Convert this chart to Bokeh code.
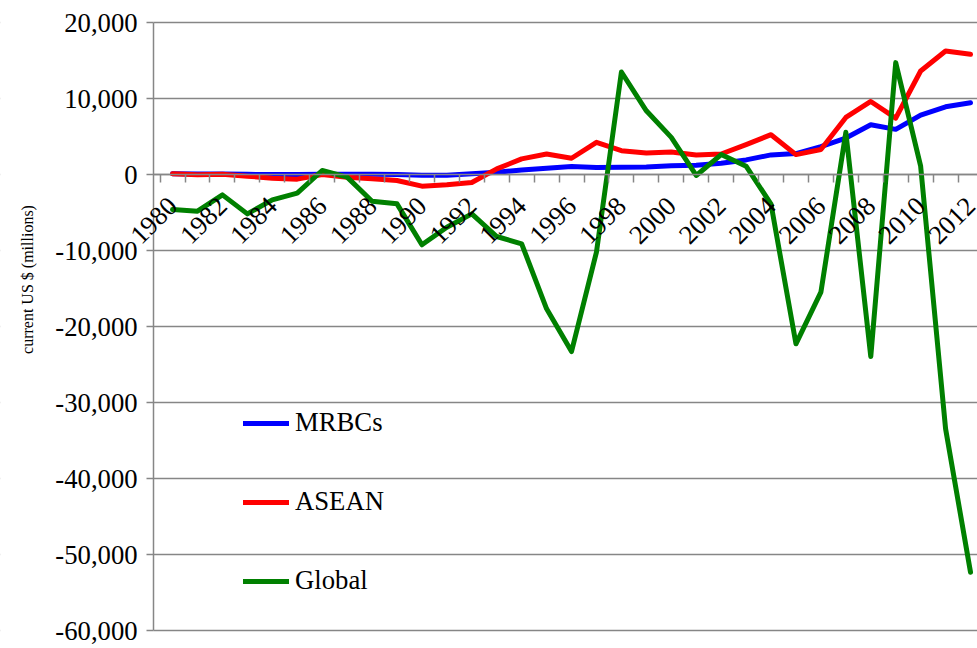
import math
from bokeh.plotting import figure
from bokeh.models import (Range1d, LinearAxis, FixedTicker, NumeralTickFormatter,
                          Legend, LegendItem, LabelSet, ColumnDataSource, Label,
                          Grid, BoxAnnotation)
from bokeh.embed import file_html
from bokeh.resources import INLINE

years = [1980, 1981, 1982, 1983, 1984, 1985, 1986, 1987, 1988, 1989, 1990,
         1991, 1992, 1993, 1994, 1995, 1996, 1997, 1998, 1999, 2000, 2001,
         2002, 2003, 2004, 2005, 2006, 2007, 2008, 2009, 2010, 2011, 2012]
mrbcs = [90, 60, 50, 20, 0, 0, 20, 30, 20, 0, -90, -90, 90, 300, 600, 830,
         1050, 920, 960, 1000, 1140, 1220, 1480, 1920, 2580, 2750, 3670, 4800,
         6550, 5940, 7820, 8910, 9430]
asean = [90, -40, 40, -220, -480, -610, 0, -350, -570, -790, -1530, -1350,
         -1050, 740, 2050, 2700, 2140, 4240, 3140, 2840, 2970, 2580, 2700,
         3930, 5240, 2620, 3280, 7510, 9610, 7420, 13620, 16240, 15810]
global_fdi = [-4610, -4830, -2680, -5180, -3330, -2460, 530, -350, -3510,
              -3860, -9250, -6930, -5180, -8160, -9120, -17670, -23290, -10200,
              13490, 8380, 4890, -130, 2620, 1090, -3900, -22280, -15480, 5550,
              -23950, 14720, 1100, -33460, -52330]
label_years = [1980, 1982, 1984, 1986, 1988, 1990, 1992, 1994, 1996, 1998,
               2000, 2002, 2004, 2006, 2008, 2010, 2012]
y_ticks = [-60000, -50000, -40000, -30000, -20000, -10000, 0, 10000, 20000]
y_title = "current US $ (millions)"

FONT = "Liberation Serif"
GRID = "#868686"
FS = "26.7px"

# plot region of the chart (data units); the canvas extends a bit beyond it
X_LO, X_HI = 1979.24, 2012.28
Y_LO, Y_HI = -60000, 20000

p = figure(width=977, height=648, output_backend="svg", toolbar_location=None,
           x_range=Range1d(1973.10, X_HI), y_range=Range1d(-62368, 22895),
           x_axis_location=None, y_axis_location=None,
           min_border_left=0, min_border_right=0, min_border_top=0,
           min_border_bottom=0)
p.outline_line_color = None
p.title.visible = False
for g in list(p.grid):
    g.visible = False

p.add_layout(Grid(dimension=1, ticker=FixedTicker(ticks=y_ticks),
                  grid_line_color=GRID, grid_line_width=1.5))
p.add_layout(BoxAnnotation(left=1960, right=X_LO, fill_color="white",
                           fill_alpha=1.0, line_color=None, level="underlay"))

# y axis
yax = LinearAxis(ticker=FixedTicker(ticks=y_ticks), fixed_location=X_LO,
                 bounds=(Y_LO, Y_HI),
                 formatter=NumeralTickFormatter(format="0,0"))
yax.axis_line_color = GRID
yax.axis_line_width = 1.5
yax.major_tick_line_color = GRID
yax.major_tick_line_width = 1.5
yax.major_tick_out = 7
yax.major_tick_in = 0
yax.minor_tick_line_color = None
yax.major_label_text_font = FONT
yax.major_label_text_font_size = FS
yax.major_label_text_color = "black"
yax.major_label_standoff = 9
p.add_layout(yax, "left")

# x axis drawn at zero: line and category boundary ticks
minor = [y - 0.5 for y in years] + [years[-1] + 0.5]
xax = LinearAxis(ticker=FixedTicker(ticks=[], minor_ticks=minor),
                 fixed_location=0, bounds=(X_LO, X_HI))
xax.axis_line_color = GRID
xax.axis_line_width = 1.5
xax.major_tick_line_color = None
xax.minor_tick_line_color = GRID
xax.minor_tick_line_width = 1.5
xax.minor_tick_out = 8
xax.minor_tick_in = 0
xax.major_label_text_font_size = "0px"
p.add_layout(xax, "below")

kw = dict(line_width=5, line_join="round", line_cap="round")
r_m = p.line(years, mrbcs, line_color="#0000ff", **kw)
r_a = p.line(years, asean, line_color="#ff0000", **kw)
r_g = p.line(years, global_fdi, line_color="#008000", **kw)

# rotated year labels hanging under the zero line
lab_src = ColumnDataSource(dict(x=label_years, y=[0] * len(label_years),
                                t=[str(v) for v in label_years]))
p.add_layout(LabelSet(x="x", y="y", text="t", source=lab_src,
                      angle=math.pi / 4, text_align="right",
                      text_baseline="middle", x_offset=0, y_offset=-27,
                      text_font=FONT, text_font_size=FS, text_color="black"))

legend = Legend(items=[LegendItem(label="MRBCs", renderers=[r_m]),
                       LegendItem(label="ASEAN", renderers=[r_a]),
                       LegendItem(label="Global", renderers=[r_g])],
                location=(243, 52), orientation="vertical",
                glyph_width=46, glyph_height=30, label_height=30,
                label_standoff=6, spacing=48, padding=0, margin=0,
                border_line_color=None, background_fill_alpha=0,
                label_text_font=FONT, label_text_font_size=FS,
                label_text_color="black")
p.add_layout(legend, "center")

p.add_layout(Label(x=27, y=369, x_units="screen", y_units="screen",
                   text=y_title, angle=math.pi / 2, text_align="center",
                   text_baseline="middle", text_font=FONT,
                   text_font_size="16px", text_color="black"))

open("out.html", "w").write(file_html(p, INLINE))
